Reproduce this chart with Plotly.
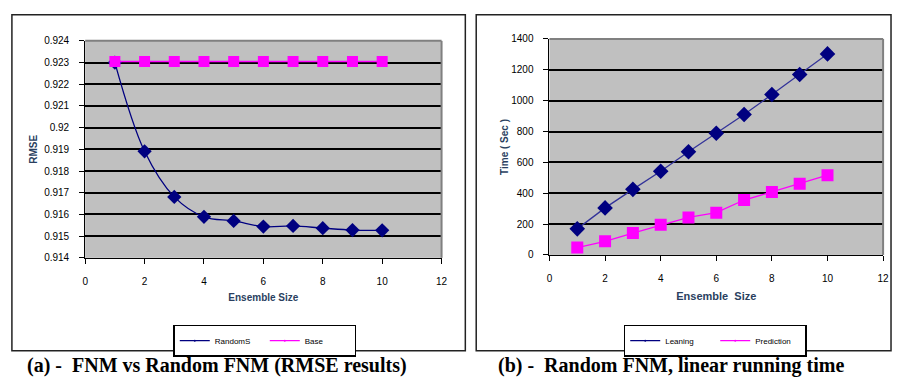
import plotly.graph_objects as go

W, H = 899, 383

ensemble = [1, 2, 3, 4, 5, 6, 7, 8, 9, 10]
rmse_random = [0.92300, 0.91891, 0.91681, 0.91589, 0.91570, 0.91544, 0.91547, 0.91537, 0.91528, 0.91527]
rmse_base = [0.92305] * 10
time_learning = [169, 305, 425, 542, 669, 789, 910, 1040, 1169, 1303]
time_prediction = [48, 88, 142, 195, 243, 274, 356, 408, 462, 517]

x_ticks = [0, 2, 4, 6, 8, 10, 12]
rmse_ticks = [0.914, 0.915, 0.916, 0.917, 0.918, 0.919, 0.92, 0.921, 0.922, 0.923, 0.924]
rmse_ticklabels = ["0.914", "0.915", "0.916", "0.917", "0.918", "0.919", "0.92", "0.921", "0.922", "0.923", "0.924"]
time_ticks = [0, 200, 400, 600, 800, 1000, 1200, 1400]

NAVY = "#000080"
MAG = "#FF00FF"

def px(x):
    return x / W

def py(y):
    return 1 - y / H

fig = go.Figure()

# Left panel traces
fig.add_trace(go.Scatter(x=ensemble, y=rmse_random, mode="lines+markers", line=dict(color=NAVY, width=1.3, shape="spline"),
                         marker=dict(symbol="diamond", size=11, color=NAVY), showlegend=False, xaxis="x", yaxis="y"))
fig.add_trace(go.Scatter(x=ensemble, y=rmse_base, mode="lines+markers", line=dict(color=MAG, width=1.3),
                         marker=dict(symbol="square", size=11, color=MAG), showlegend=False, xaxis="x", yaxis="y"))
fig.add_trace(go.Scatter(x=[None], y=[None], mode="lines+markers", name="RandomS", line=dict(color=NAVY, width=1.3),
                         marker=dict(size=2, color=NAVY), legend="legend", xaxis="x", yaxis="y"))
fig.add_trace(go.Scatter(x=[None], y=[None], mode="lines+markers", name="Base", line=dict(color=MAG, width=1.3),
                         marker=dict(size=2, color=MAG), legend="legend", xaxis="x", yaxis="y"))

# Right panel traces
fig.add_trace(go.Scatter(x=ensemble, y=time_learning, mode="lines+markers", line=dict(color="#333399", width=1.3),
                         marker=dict(symbol="diamond", size=12, color=NAVY), showlegend=False, xaxis="x2", yaxis="y2"))
fig.add_trace(go.Scatter(x=ensemble, y=time_prediction, mode="lines+markers", line=dict(color=MAG, width=1.3),
                         marker=dict(symbol="square", size=12, color=MAG), showlegend=False, xaxis="x2", yaxis="y2"))
fig.add_trace(go.Scatter(x=[None], y=[None], mode="lines+markers", name="Leaning", line=dict(color=NAVY, width=1.3),
                         marker=dict(size=2, color=NAVY), legend="legend2", xaxis="x2", yaxis="y2"))
fig.add_trace(go.Scatter(x=[None], y=[None], mode="lines+markers", name="Prediction", line=dict(color=MAG, width=1.3),
                         marker=dict(size=2, color=MAG), legend="legend2", xaxis="x2", yaxis="y2"))

FONT = "Liberation Sans, Arial"
tickfont = dict(family=FONT, size=10, color="#000000")

common_x = dict(range=[0, 12], tickvals=x_ticks, showgrid=False, zeroline=False, showline=True, linecolor="#000000",
                linewidth=1, ticks="outside", ticklen=5, tickcolor="#000000", tickfont=tickfont, ticklabelstandoff=9)
common_y = dict(showgrid=True, gridcolor="#000000", gridwidth=2, zeroline=False, showline=True, linecolor="#000000",
                linewidth=1, ticks="outside", ticklen=5, tickcolor="#000000", tickfont=tickfont, ticklabelstandoff=8)

L = dict(x0=83, x1=443, y0=36, y1=260)
R = dict(x0=552, x1=889, y0=34, y1=257)

legend_common = dict(yanchor="top", xanchor="left", orientation="h", bgcolor="#FFFFFF", bordercolor="#000000",
                     borderwidth=1.5, font=dict(family=FONT, size=8, color="#000000"), entrywidth=45,
                     entrywidthmode="pixels", tracegroupgap=0)

fig.update_layout(
    width=W, height=H, margin=dict(l=0, r=0, t=0, b=0),
    paper_bgcolor="#FFFFFF", plot_bgcolor="#C0C0C0",
    xaxis=dict(domain=[px(L["x0"]), px(L["x1"])], anchor="y",
               title=dict(text="<b>Ensemble Size</b>", font=dict(family=FONT, size=10), standoff=8), **common_x),
    yaxis=dict(domain=[py(L["y1"]), py(L["y0"])], anchor="x", range=[0.914, 0.924], tickvals=rmse_ticks,
               ticktext=rmse_ticklabels, title=dict(text="<b>RMSE</b>", font=dict(family=FONT, size=10), standoff=4),
               **common_y),
    xaxis2=dict(domain=[px(R["x0"]), px(R["x1"])], anchor="y2",
                title=dict(text="<b>Ensemble  Size</b>", font=dict(family=FONT, size=11), standoff=9), **common_x),
    yaxis2=dict(domain=[py(R["y1"]), py(R["y0"])], anchor="x2", range=[0, 1400], tickvals=time_ticks,
                title=dict(text="<b>Time ( Sec )</b>", font=dict(family=FONT, size=10), standoff=0), **common_y),
    legend=dict(x=px(172), y=py(329), **legend_common),
    legend2=dict(x=px(627), y=py(329), **legend_common),
    shapes=[
        dict(type="rect", xref="paper", yref="paper", x0=px(9), x1=px(467), y0=py(356), y1=py(9),
             line=dict(color="#222222", width=1.5)),
        dict(type="rect", xref="paper", yref="paper", x0=px(478), x1=px(897), y0=py(356), y1=py(9),
             line=dict(color="#222222", width=1.5)),
        dict(type="line", xref="paper", yref="paper", x0=px(L["x0"]), x1=px(L["x1"]), y0=py(L["y0"]), y1=py(L["y0"]),
             line=dict(color="#808080", width=2)),
        dict(type="line", xref="paper", yref="paper", x0=px(L["x1"]), x1=px(L["x1"]), y0=py(L["y1"]), y1=py(L["y0"]),
             line=dict(color="#808080", width=2)),
        dict(type="line", xref="paper", yref="paper", x0=px(R["x0"]), x1=px(R["x1"]), y0=py(R["y0"]), y1=py(R["y0"]),
             line=dict(color="#808080", width=2)),
        dict(type="line", xref="paper", yref="paper", x0=px(R["x1"]), x1=px(R["x1"]), y0=py(R["y1"]), y1=py(R["y0"]),
             line=dict(color="#808080", width=2)),
    ],
    annotations=[
        dict(text="<b>(a) -  FNM vs Random FNM (RMSE results)</b>", xref="paper", yref="paper", x=px(22), y=py(371),
             xanchor="left", yanchor="middle", showarrow=False,
             font=dict(family="Liberation Serif, Times New Roman", size=20, color="#000000")),
        dict(text="<b>(b) -  Random FNM, linear running time</b>", xref="paper", yref="paper", x=px(498), y=py(371),
             xanchor="left", yanchor="middle", showarrow=False,
             font=dict(family="Liberation Serif, Times New Roman", size=20, color="#000000")),
    ],
)

fig.write_html("out.html", config={"displayModeBar": False},
               post_script="document.body.style.margin='0';document.body.style.overflow='hidden';")
